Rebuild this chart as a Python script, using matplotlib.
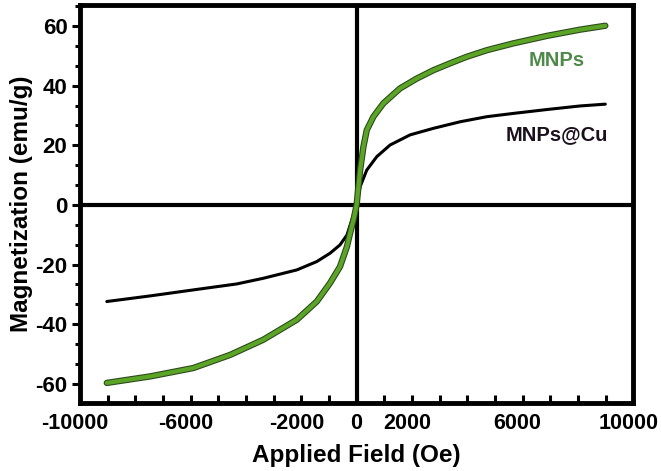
import numpy as np
import matplotlib
matplotlib.use("Agg")
import matplotlib.pyplot as plt
import matplotlib.patheffects as pe
import matplotlib.transforms as mtransforms
from matplotlib.ticker import AutoMinorLocator, MultipleLocator

# values (field in Oe, magnetization in emu/g)
field_mnps = [-9030, -7450, -5900, -4570, -3370, -2160, -1440, -960, -600,
              -350, -235, -100, 0, 127, 246, 367, 608, 970, 1573, 2177,
              2780, 3380, 3985, 4710, 5670, 6880, 8080, 8990]
mag_mnps = [-59.7, -57.5, -54.7, -50.3, -45.2, -38.5, -32.4, -26.2, -20.7,
            -14.0, -9.5, -4.5, 0, 11.7, 19.5, 25.1, 29.6, 34.1, 39.1, 42.4,
            45.2, 47.5, 49.7, 51.9, 54.2, 56.7, 58.8, 60.1]

field_cu = [-9030, -7450, -5900, -4330, -3370, -2160, -1440, -960, -600,
            -350, -170, 0, 127, 367, 730, 1210, 1935, 2780, 3745, 4710,
            5670, 6880, 8080, 8990]
mag_cu = [-32.4, -30.5, -28.5, -26.5, -24.6, -21.8, -19.0, -16.2, -13.4,
          -10.1, -5.0, 0, 6.1, 11.7, 16.2, 20.1, 23.5, 25.7, 27.9, 29.6,
          30.7, 32.0, 33.2, 33.8]

xtick_vals = [-10000, -6000, -2000, 0, 2000, 6000, 10000]
ytick_vals = [-60, -40, -20, 0, 20, 40, 60]

plt.rcParams['font.family'] = ['Liberation Sans', 'DejaVu Sans']
plt.rcParams['font.weight'] = 'bold'
plt.rcParams['axes.unicode_minus'] = False

fig = plt.figure(figsize=(6.61, 4.71), dpi=100)
ax = fig.add_axes([0.121, 0.144, 0.837, 0.845])

# axes through the origin
ax.axhline(0, color='black', lw=3.0, zorder=1)
ax.axvline(0, color='black', lw=3.0, zorder=1)

ax.plot(field_cu, mag_cu, color='black', lw=2.2, solid_capstyle='round',
        solid_joinstyle='round', zorder=3)
ax.plot(field_mnps, mag_mnps, color='#5aa526', lw=3.0, solid_capstyle='round',
        solid_joinstyle='round', zorder=4,
        path_effects=[pe.Stroke(linewidth=4.6, foreground='#2e4a1c'), pe.Normal()])

ax.text(7250, 48.4, 'MNPs', color='#4f8a4a', fontsize=14.5, fontweight='bold',
        ha='center', va='center')
ax.text(7250, 23.6, 'MNPs@Cu', color='#1a0f1a', fontsize=14.5, fontweight='bold',
        ha='center', va='center')

ax.set_xlim(-10000, 10000)
ax.set_ylim(-66.5, 67)
ax.set_xticks(xtick_vals)
ax.set_xticklabels([str(v) for v in xtick_vals])
ax.xaxis.set_minor_locator(MultipleLocator(1000))
ax.set_yticks(ytick_vals)
ax.yaxis.set_minor_locator(AutoMinorLocator(3))

ax.tick_params(axis='x', which='both', direction='in', length=6, width=2.2,
               labelsize=15.5, pad=7)
ax.tick_params(axis='y', which='major', direction='out', length=6, width=2.2,
               labelsize=16, pad=3)
ax.tick_params(axis='y', which='minor', direction='out', length=3.5, width=2.2)

# x labels sit a little left of their ticks in the original (not the 0)
shift = mtransforms.ScaledTranslation(-5 / 100, 0, fig.dpi_scale_trans)
for lab, v in zip(ax.get_xticklabels(), xtick_vals):
    if v != 0:
        lab.set_transform(lab.get_transform() + shift)

for s in ax.spines.values():
    s.set_linewidth(3.5)

ax.set_xlabel('Applied Field (Oe)', fontsize=17.5, fontweight='bold', labelpad=7)
ax.set_ylabel('Magnetization (emu/g)', fontsize=17.5, fontweight='bold', labelpad=2)

fig.savefig('out.png', dpi=100)
